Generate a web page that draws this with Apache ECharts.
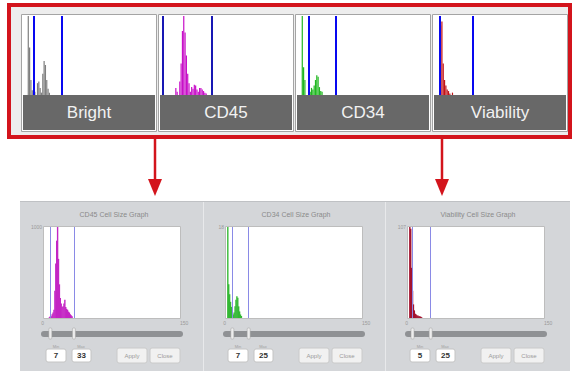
<!DOCTYPE html>
<html>
<head>
<meta charset="utf-8">
<script src="https://cdn.jsdelivr.net/npm/echarts@6/dist/echarts.min.js"></script>
<style>
  html, body { margin: 0; padding: 0; background: #fff; }
  #main { width: 576px; height: 371px; }
</style>
</head>
<body>
<div id="main"></div>
<script>
// thumbnails on top: one bin per channel (0..100), height in % of the panel
var thumbNames = ['Bright', 'CD45', 'CD34', 'Viability']
var brightBins = [0, 0, 0, 0, 100, 60, 19, 6, 0, 4, 0, 15, 17, 9, 3, 27, 43, 38, 19, 8, 3]
var cd45ThumbBins = [0, 0, 0, 0, 0, 0, 0, 0, 0, 0, 0, 0, 9, 4, 0, 17, 40, 81, 100, 79, 50, 27, 15, 4, 10, 8, 13, 12, 7, 4, 9, 9, 7, 5, 3, 2]
var cd34ThumbBins = [0, 0, 0, 0, 100, 35, 19, 0, 0, 8, 4, 9, 7, 12, 19, 25, 23, 10, 5, 4]
var viabilityThumbBins = [0, 0, 0, 0, 0, 88, 93, 40, 19, 12, 7, 5, 2, 0, 3]
var thumbGates = [[8.3, 29.5], [2.3, 39.4], [8.6, 29.5], [4.7, 29.2]]

// cell size graphs below: counts per size bin (0..150)
var graphTitles = ['CD45 Cell Size Graph', 'CD34 Cell Size Graph', 'Viability Cell Size Graph']
var cd45Counts = [0, 0, 0, 0, 0, 0, 10, 20, 20, 40, 60, 90, 300, 600, 850, 1000, 650, 370, 220, 160, 120, 130, 160, 200, 120, 100, 90, 70, 60, 40, 30, 20]
var cd34Counts = [0, 0, 18, 6.7, 4.7, 3.2, 2.2, 0.9, 0.7, 1.1, 2.3, 3.6, 4.3, 4, 2.3, 1.3, 0.7, 0.4]
var viabilityCounts = [0, 0, 107, 105, 59, 32, 16, 9, 5, 4, 3, 3, 2, 2, 1.5, 1]
var graphMax = [1000, 18, 107]
var graphGates = [[7, 33], [7, 25], [5, 25]] // Min / Max

var thumbBins = [brightBins, cd45ThumbBins, cd34ThumbBins, viabilityThumbBins]
var thumbColors = ['#7f7f7f', '#c810c8', '#20b820', '#c01418']
var gateColors = ['#0808f0', '#1818b4', '#0808f0', '#0808f0']
var graphCounts = [cd45Counts, cd34Counts, viabilityCounts]
var graphColors = ['#c426c4', '#34b834', '#a3122e']

var FONT = '"Liberation Sans", Arial, sans-serif'
var chart = echarts.init(document.getElementById('main'), null, { renderer: 'svg' })

function toPairs (bins) {
  var out = []
  bins.forEach(function (v, i) { if (v > 0) out.push([i, v]) })
  return out
}

function txt (x, y, text, size, color, weight) {
  return {
    type: 'text', x: x, y: y,
    style: {
      text: String(text), fill: color, font: (weight || 'normal') + ' ' + size + 'px ' + FONT,
      textAlign: 'center', textVerticalAlign: 'middle', align: 'center', verticalAlign: 'middle'
    }
  }
}

var grids = []
var xAxes = []
var yAxes = []
var series = []
var g = []

// red frame round the thumbnails
g.push({ type: 'rect', shape: { x: 9, y: 5, width: 561, height: 132 }, style: { fill: '#ededed', stroke: '#d3141c', lineWidth: 4 } })

thumbNames.forEach(function (name, i) {
  var x0 = 23 + 137 * i
  g.push({ type: 'rect', shape: { x: x0 - 1.5, y: 14.5, width: 135, height: 117 }, style: { fill: '#fff', stroke: '#a4a4a4', lineWidth: 1 } })
  g.push({ type: 'rect', shape: { x: x0, y: 95, width: 132, height: 35 }, style: { fill: '#686868' } })
  g.push(txt(x0 + 66, 112.5, name, 17, '#f2f2f2'))

  grids.push({ left: x0, top: 16, width: 132, height: 79 })
  xAxes.push({ type: 'value', gridIndex: i, min: 0, max: 100, show: false })
  yAxes.push({ type: 'value', gridIndex: i, min: 0, max: 100, show: false })
  series.push({
    type: 'bar',
    xAxisIndex: i,
    yAxisIndex: i,
    data: toPairs(thumbBins[i]),
    barWidth: 1.2,
    itemStyle: { color: thumbColors[i] },
    markLine: {
      silent: true,
      symbol: ['none', 'none'],
      label: { show: false },
      lineStyle: { color: gateColors[i], width: 2, type: 'solid' },
      data: thumbGates[i].map(function (v) { return { xAxis: v } })
    }
  })
})

// arrows
;[155, 442].forEach(function (ax) {
  g.push({ type: 'line', shape: { x1: ax, y1: 139, x2: ax, y2: 181 }, style: { stroke: '#d3141c', lineWidth: 2.5 } })
  g.push({ type: 'polygon', shape: { points: [[ax - 7, 179], [ax + 7, 179], [ax, 196]] }, style: { fill: '#d3141c' } })
})

// dialog strip
g.push({ type: 'rect', shape: { x: 20, y: 201, width: 550, height: 170 }, style: { fill: '#d4d6d9' } })
g.push({ type: 'line', shape: { x1: 20, y1: 201.5, x2: 570, y2: 201.5 }, style: { stroke: '#bfc1c4', lineWidth: 1 } })
;[203.5, 385.5].forEach(function (sx) {
  g.push({ type: 'line', shape: { x1: sx, y1: 202, x2: sx, y2: 371 }, style: { stroke: '#e8e9eb', lineWidth: 1 } })
})

graphTitles.forEach(function (title, j) {
  var L = [22, 204, 386][j]
  var k = j + 4
  var px = L + 22
  var gate = graphGates[j]

  g.push(txt(L + 92, 214, title, 7, '#8a8a8a'))
  g.push({ type: 'rect', shape: { x: px - 0.5, y: 226.5, width: 137, height: 92 }, style: { fill: '#fff', stroke: '#bdbdbd', lineWidth: 1 } })

  grids.push({ left: px, top: 227, width: 136, height: 91 })
  xAxes.push({
    type: 'value', gridIndex: k, min: 0, max: 150, interval: 150,
    axisLine: { show: false }, axisTick: { show: false }, splitLine: { show: false },
    axisLabel: { fontSize: 5, color: '#9a9a9a', margin: 2, alignMinLabel: 'right', alignMaxLabel: 'left' }
  })
  yAxes.push({
    type: 'value', gridIndex: k, min: 0, max: graphMax[j], interval: graphMax[j],
    axisLine: { show: false }, axisTick: { show: false }, splitLine: { show: false },
    axisLabel: { fontSize: 5, color: '#9a9a9a', margin: 2, showMinLabel: false, formatter: function (v) { return String(v) } }
  })
  series.push({
    type: 'bar',
    xAxisIndex: k,
    yAxisIndex: k,
    data: toPairs(graphCounts[j]),
    barWidth: 1.4,
    itemStyle: { color: graphColors[j] },
    markLine: {
      silent: true,
      symbol: ['none', 'none'],
      label: { show: false },
      lineStyle: { color: '#8a8ae6', width: 1, type: 'solid' },
      data: gate.map(function (v) { return { xAxis: v } })
    }
  })

  // slider with the two handles at the gate values
  g.push({ type: 'rect', shape: { x: L + 19, y: 331, width: 142, height: 6, r: 3 }, style: { fill: '#8f9194' } })
  gate.forEach(function (v) {
    var hx = px + v / 150 * 136
    g.push({ type: 'rect', shape: { x: hx - 1.5, y: 328, width: 3, height: 11, r: 1 }, style: { fill: '#ededed', stroke: '#a0a0a0', lineWidth: 0.5 } })
  })

  // Min / Max boxes
  g.push(txt(L + 34, 346, 'Min', 4, '#a0a0a0'))
  g.push(txt(L + 59, 346, 'Max', 4, '#a0a0a0'))
  g.push({ type: 'rect', shape: { x: L + 24, y: 349, width: 20, height: 13, r: 2 }, style: { fill: '#fff', stroke: '#c4c4c4', lineWidth: 1 } })
  g.push(txt(L + 34, 355.5, gate[0], 8, '#333', 'bold'))
  g.push({ type: 'rect', shape: { x: L + 50, y: 349, width: 19, height: 13, r: 2 }, style: { fill: '#fff', stroke: '#c4c4c4', lineWidth: 1 } })
  g.push(txt(L + 59.5, 355.5, gate[1], 8, '#333', 'bold'))

  // buttons
  g.push({ type: 'rect', shape: { x: L + 95, y: 348, width: 30, height: 15, r: 2 }, style: { fill: '#f1f1f1', stroke: '#cacaca', lineWidth: 1 } })
  g.push(txt(L + 110, 355.5, 'Apply', 6, '#9a9a9a'))
  g.push({ type: 'rect', shape: { x: L + 128, y: 348, width: 30, height: 15, r: 2 }, style: { fill: '#f1f1f1', stroke: '#cacaca', lineWidth: 1 } })
  g.push(txt(L + 143, 355.5, 'Close', 6, '#9a9a9a'))
})

chart.setOption({
  backgroundColor: '#fff',
  animation: false,
  graphic: { elements: g },
  grid: grids,
  xAxis: xAxes,
  yAxis: yAxes,
  series: series
})
</script>
</body>
</html>
